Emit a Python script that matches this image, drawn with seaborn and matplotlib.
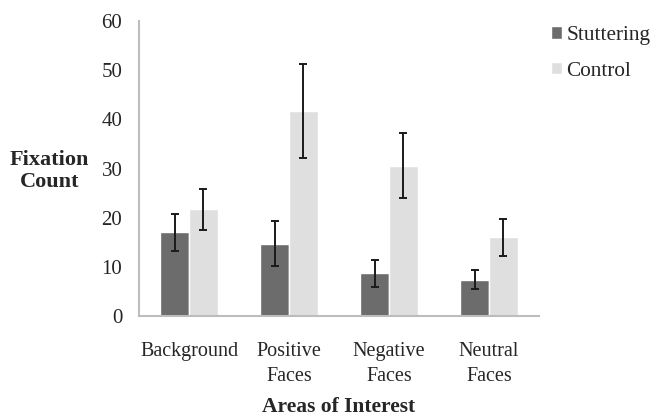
import matplotlib
matplotlib.use("Agg")
import matplotlib.pyplot as plt
import seaborn as sns
import pandas as pd
import numpy as np

categories = ["Background", "Positive\nFaces", "Negative\nFaces", "Neutral\nFaces"]
groups = ["Stuttering", "Control"]
stuttering_means = [17.0, 14.7, 8.7, 7.4]
control_means = [21.7, 41.7, 30.6, 16.0]
stuttering_err = [3.7, 4.6, 2.7, 1.9]
control_err = [4.2, 9.5, 6.7, 3.7]
yticks = [0, 10, 20, 30, 40, 50, 60]

df = pd.DataFrame({
    "Area": categories * 2,
    "Group": [groups[0]] * 4 + [groups[1]] * 4,
    "Mean": stuttering_means + control_means,
    "Err": stuttering_err + control_err,
})

sns.set_theme(style="white")
plt.rcParams["font.family"] = ["Liberation Serif", "DejaVu Serif"]

fig = plt.figure(figsize=(6.52, 4.17), dpi=100)
ax = fig.add_axes([0.2132, 0.2422, 0.6135, 0.7074])

palette = {"Stuttering": "#6c6c6c", "Control": "#dfdfdf"}
sns.barplot(data=df, x="Area", y="Mean", hue="Group", palette=palette,
            width=0.575, gap=0, errorbar=None, saturation=1, ax=ax,
            order=categories, hue_order=groups)

# error bars at drawn bar centers
bars = [p for p in ax.patches if p.get_height() > 0]
for gi, g in enumerate(groups):
    sub = df[df["Group"] == g]
    for ci, (m, e) in enumerate(zip(sub["Mean"], sub["Err"])):
        p = bars[gi * len(categories) + ci]
        xc = p.get_x() + p.get_width() / 2
        ax.errorbar(xc, m, yerr=e, fmt="none", ecolor="#1a1a1a",
                    elinewidth=1.4, capsize=3, capthick=1.4)

ax.set_xlim(-0.5, 3.5)
ax.set_ylim(0, 60)
ax.set_yticks(yticks)
ax.set_yticklabels([str(t) for t in yticks])
ax.tick_params(axis="y", length=0, pad=12, labelsize=15)
ax.tick_params(axis="x", length=0, pad=19, labelsize=14.5)
for lab in ax.get_xticklabels():
    lab.set_linespacing(1.4)

for s in ["top", "right"]:
    ax.spines[s].set_visible(False)
for s in ["left", "bottom"]:
    ax.spines[s].set_color("#bdbdbd")
    ax.spines[s].set_linewidth(1.5)

ax.set_xlabel("")
ax.set_ylabel("")
fig.text(0.52, 0.013, "Areas of Interest", ha="center", va="baseline",
         fontsize=15.5, fontweight="bold")
fig.text(0.076, 0.59, "Fixation\nCount", ha="center", va="center",
         fontsize=16, fontweight="bold", linespacing=1.17)

leg = ax.legend(loc="upper left", bbox_to_anchor=(1.03, 0.983), frameon=False,
                fontsize=15.3, handlelength=0.5, handleheight=0.52,
                handletextpad=0.22, labelspacing=0.78, borderaxespad=0,
                borderpad=0)

fig.savefig("out.png", dpi=100)
